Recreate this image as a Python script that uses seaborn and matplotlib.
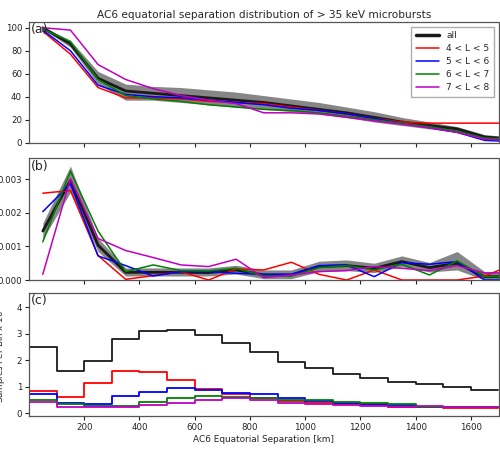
import numpy as np
import pandas as pd
import matplotlib
matplotlib.use("Agg")
import matplotlib.pyplot as plt
import seaborn as sns

# ---- data ----
sep = [50, 150, 250, 350, 450, 550, 650, 750, 850, 950, 1050, 1150, 1250, 1350, 1450, 1550, 1650, 1750]

cdf_all = [100, 86, 56, 45, 43, 41, 39, 37, 35, 32, 29, 26, 22, 18, 15, 12, 5, 3]
cdf_all_hi = [101, 89, 62, 51, 49, 48, 46, 44, 41, 38, 35, 31, 27, 22, 18, 14, 7, 5]
cdf_all_lo = [99, 83, 51, 37, 37, 35, 33, 31, 29, 27, 25, 22, 18, 15, 12, 9, 3, 1]
cdf_L45 = [97, 77, 48, 39, 39, 38, 36, 35, 34, 31, 28, 25, 21, 18, 17, 17, 17, 17]
cdf_L56 = [98, 80, 50, 42, 40, 39, 37, 35, 33, 30, 28, 25, 21, 17, 13, 9, 2, 1]
cdf_L67 = [99, 88, 55, 41, 38, 36, 33, 31, 29, 28, 26, 23, 20, 17, 14, 10, 4, 3]
cdf_L78 = [100, 98, 68, 55, 47, 41, 37, 34, 26, 26, 25, 22, 19, 16, 13, 9, 3, 2]

pdf_all = [0.00146, 0.00297, 0.00104, 0.00023, 0.00023, 0.00023, 0.00022, 0.00030, 0.00015, 0.00015, 0.00040, 0.00043, 0.00035, 0.00055, 0.00037, 0.00050, 0.00010, 0.00010]
pdf_all_hi = [0.00170, 0.00340, 0.00125, 0.00036, 0.00036, 0.00036, 0.00036, 0.00044, 0.00030, 0.00030, 0.00056, 0.00060, 0.00050, 0.00072, 0.00052, 0.00085, 0.00025, 0.00025]
pdf_all_lo = [0.00122, 0.00262, 0.00085, 0.00012, 0.00012, 0.00012, 0.00012, 0.00018, 0.00004, 0.00004, 0.00025, 0.00028, 0.00022, 0.00040, 0.00024, 0.00030, 0.00000, 0.00000]
pdf_L45 = [0.00259, 0.00267, 0.00073, 0.00002, 0.00013, 0.00025, 0.00000, 0.00033, 0.00030, 0.00053, 0.00017, 0.00000, 0.00030, 0.00000, 0.00000, 0.00000, 0.00012, 0.00045]
pdf_L56 = [0.00204, 0.00287, 0.00072, 0.00043, 0.00012, 0.00025, 0.00025, 0.00020, 0.00017, 0.00017, 0.00043, 0.00045, 0.00010, 0.00052, 0.00047, 0.00055, 0.00000, 0.00000]
pdf_L67 = [0.00114, 0.00325, 0.00146, 0.00025, 0.00045, 0.00028, 0.00027, 0.00035, 0.00012, 0.00012, 0.00037, 0.00043, 0.00030, 0.00047, 0.00015, 0.00057, 0.00010, 0.00010]
pdf_L78 = [0.00017, 0.00302, 0.00124, 0.00088, 0.00067, 0.00045, 0.00040, 0.00062, 0.00007, 0.00015, 0.00025, 0.00028, 0.00040, 0.00035, 0.00028, 0.00043, 0.00021, 0.00021]

bin_edges = [0, 100, 200, 300, 400, 500, 600, 700, 800, 900, 1000, 1100, 1200, 1300, 1400, 1500, 1600, 1700]
samp_all = [2.49, 1.61, 1.98, 2.79, 3.12, 3.13, 2.95, 2.64, 2.33, 1.95, 1.70, 1.48, 1.32, 1.17, 1.09, 0.98, 0.89]
samp_L45 = [0.85, 0.63, 1.16, 1.60, 1.56, 1.27, 0.93, 0.72, 0.57, 0.48, 0.40, 0.35, 0.31, 0.25, 0.23, 0.20, 0.20]
samp_L56 = [0.72, 0.38, 0.34, 0.65, 0.82, 0.97, 0.90, 0.78, 0.73, 0.59, 0.46, 0.40, 0.37, 0.33, 0.25, 0.25, 0.23]
samp_L67 = [0.50, 0.34, 0.29, 0.28, 0.44, 0.57, 0.65, 0.63, 0.57, 0.50, 0.50, 0.44, 0.40, 0.35, 0.25, 0.25, 0.23]
samp_L78 = [0.42, 0.25, 0.23, 0.25, 0.31, 0.38, 0.50, 0.57, 0.50, 0.40, 0.35, 0.31, 0.28, 0.25, 0.28, 0.25, 0.23]

labels = ["4 < L < 5", "5 < L < 6", "6 < L < 7", "7 < L < 8"]
colors = ["#ff0000", "#0000ff", "#008000", "#c000c0"]

# ---- plot ----
sns.set_theme(style="ticks")
plt.rcParams["font.family"] = ["DejaVu Sans"]
plt.rcParams["axes.edgecolor"] = "#555555"

fig = plt.figure(figsize=(5.0, 4.55), dpi=100)
L, R = 0.058, 0.997
ax_a = fig.add_axes([L, 0.6864, R - L, 0.9516 - 0.6864])
ax_b = fig.add_axes([L, 0.3846, R - L, 0.652 - 0.3846])
ax_c = fig.add_axes([L, 0.0857, R - L, 0.356 - 0.0857])

tick_fs = 6.2

# panel a
ax_a.fill_between(sep, cdf_all_lo, cdf_all_hi, color="#808080", alpha=0.95, lw=0)
sns.lineplot(x=sep, y=cdf_all, color="k", lw=2.0, ax=ax_a, label="all")
for ys, lab, c in zip([cdf_L45, cdf_L56, cdf_L67, cdf_L78], labels, colors):
    sns.lineplot(x=sep, y=ys, color=c, lw=1.1, ax=ax_a, label=lab)
ax_a.set_ylim(0, 105)
ax_a.set_yticks([0, 20, 40, 60, 80, 100])
leg = ax_a.legend(loc="upper right", fontsize=6.5, frameon=True, handlelength=2.6,
                  borderpad=0.5, labelspacing=0.45, fancybox=False)
leg.get_frame().set_edgecolor("#999999")
leg.get_lines()[0].set_linewidth(2.5)
ax_a.set_title("AC6 equatorial separation distribution of > 35 keV microbursts",
               fontsize=7.6, pad=3)

# panel b
ax_b.fill_between(sep, pdf_all_lo, pdf_all_hi, color="#808080", alpha=0.95, lw=0)
sns.lineplot(x=sep, y=pdf_all, color="k", lw=2.0, ax=ax_b, legend=False)
for ys, c in zip([pdf_L45, pdf_L56, pdf_L67, pdf_L78], colors):
    sns.lineplot(x=sep, y=ys, color=c, lw=1.1, ax=ax_b, legend=False)
ax_b.set_ylim(0, 0.00363)
ax_b.set_yticks([0.0, 0.001, 0.002, 0.003])
ax_b.set_yticklabels(["0.000", "0.001", "0.002", "0.003"])

# panel c
centers = [(a + b) / 2 for a, b in zip(bin_edges[:-1], bin_edges[1:])]
for ys, c in zip([samp_all, samp_L45, samp_L56, samp_L67, samp_L78], ["k"] + colors):
    sns.histplot(x=centers, weights=ys, bins=bin_edges, element="step", fill=False,
                 color=c, lw=1.3, ax=ax_c)
ax_c.set_ylim(-0.1, 4.54)
ax_c.set_yticks([0, 1, 2, 3, 4])
ax_c.set_ylabel("Samples Per Bin x $10^5$", fontsize=6.2)
ax_c.yaxis.set_label_coords(-0.045, 0.5)
ax_c.set_xlabel("AC6 Equatorial Separation [km]", fontsize=6.4, labelpad=2)

for ax, tag in zip([ax_a, ax_b, ax_c], ["(a)", "(b)", "(c)"]):
    ax.set_xlim(0, 1700)
    ax.set_xticks([200, 400, 600, 800, 1000, 1200, 1400, 1600])
    ax.tick_params(labelsize=tick_fs, length=3, width=0.8, pad=2, colors="#222222")
    ax.text(0.005, 0.99, tag, transform=ax.transAxes, fontsize=9, va="top", ha="left")
    for s in ax.spines.values():
        s.set_linewidth(0.9)
    if ax is not ax_c:
        ax.set_xticklabels([])
        ax.set_ylabel("")
        ax.set_xlabel("")

fig.savefig("out.png", dpi=100)
